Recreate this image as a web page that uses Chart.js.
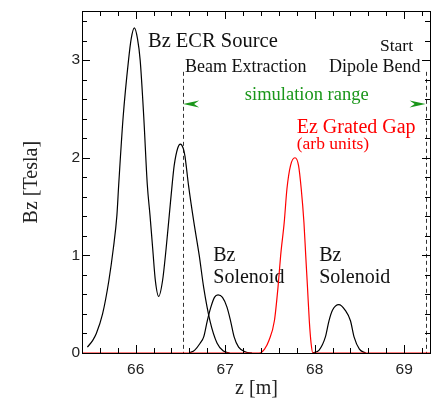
<!DOCTYPE html>
<html>
<head>
<meta charset="utf-8">
<script src="https://cdn.jsdelivr.net/npm/chart.js@4"></script>
<style>
  html, body { margin: 0; padding: 0; background: #fff; }
  #wrap { width: 433px; height: 401px; }
</style>
</head>
<body>
<div id="wrap"><canvas id="fieldChart"></canvas></div>
<script>
// Data
const ecrZ = [65.46, 65.52, 65.56, 65.63, 65.70, 65.75, 65.79, 65.81, 65.86, 65.92, 65.95, 65.985, 66.02, 66.05, 66.09, 66.13, 66.16, 66.19, 66.22, 66.257, 66.30, 66.34, 66.375, 66.41, 66.43, 66.47, 66.50, 66.53, 66.55, 66.59, 66.65, 66.71, 66.76, 66.83, 66.91, 66.98, 67.05];
const ecrB = [0.06, 0.13, 0.20, 0.40, 0.74, 1.07, 1.41, 1.72, 2.42, 3.00, 3.22, 3.33, 3.22, 3.00, 2.42, 1.72, 1.41, 1.07, 0.74, 0.58, 0.74, 1.07, 1.41, 1.75, 1.92, 2.10, 2.14, 2.10, 2.02, 1.72, 1.34, 1.00, 0.67, 0.33, 0.10, 0.02, 0.00];

const sol1Z = [66.60, 66.66, 66.72, 66.76, 66.80, 66.84, 66.88, 66.92, 66.97, 67.02, 67.06, 67.10, 67.15, 67.23, 67.30];
const sol1B = [0.00, 0.03, 0.10, 0.165, 0.33, 0.47, 0.57, 0.596, 0.57, 0.47, 0.33, 0.165, 0.06, 0.01, 0.00];

const sol2Z = [67.98, 68.05, 68.12, 68.16, 68.20, 68.27, 68.34, 68.40, 68.44, 68.50, 68.57];
const sol2B = [0.00, 0.03, 0.165, 0.33, 0.44, 0.495, 0.44, 0.33, 0.165, 0.04, 0.00];

const gapZ = [65.40, 67.38, 67.44, 67.49, 67.55, 67.59, 67.62, 67.66, 67.69, 67.73, 67.78, 67.82, 67.85, 67.88, 67.90, 67.92, 67.94, 67.96, 67.98, 69.30];
const gapE = [0.00, 0.00, 0.04, 0.13, 0.33, 0.67, 1.00, 1.34, 1.68, 1.92, 2.00, 1.92, 1.68, 1.34, 1.00, 0.67, 0.33, 0.10, 0.00, 0.00];

const xTickValues = [66, 67, 68, 69];
const yTickValues = [0, 1, 2, 3];

const beamExtractionZ = 66.53;
const dipoleBendZ = 69.24;

const serif = 'Liberation Serif';
const sans = 'Liberation Sans';
const green = 'rgb(25,150,25)';

// Text notes placed in data coordinates
const notes = [
  { text: 'Bz ECR Source', z: 66.137, b: 3.136, size: 20.5, color: '#111' },
  { text: 'Beam Extraction', z: 66.551, b: 2.876, size: 18, color: '#111' },
  { text: 'Start', z: 68.73, b: 3.094, size: 17.5, color: '#111' },
  { text: 'Dipole Bend', z: 68.16, b: 2.876, size: 18, color: '#111' },
  { text: 'simulation range', z: 67.22, b: 2.589, size: 18.5, color: green },
  { text: 'Ez Grated Gap', z: 67.80, b: 2.253, size: 20, color: '#ff0000' },
  { text: '(arb units)', z: 67.80, b: 2.09, size: 17.5, color: '#ff0000' },
  { text: 'Bz', z: 66.867, b: 0.939, size: 20, color: '#111' },
  { text: 'Solenoid', z: 66.867, b: 0.72, size: 20, color: '#111' },
  { text: 'Bz', z: 68.05, b: 0.939, size: 20, color: '#111' },
  { text: 'Solenoid', z: 68.05, b: 0.72, size: 20, color: '#111' }
];

function toPoints(zs, vs) {
  return zs.map((z, i) => ({ x: z, y: vs[i] }));
}

function lineSet(zs, vs, color) {
  return {
    data: toPoints(zs, vs),
    borderColor: color,
    borderWidth: 1.2,
    pointRadius: 0,
    showLine: true,
    fill: false,
    cubicInterpolationMode: 'monotone'
  };
}

// Dashed markers, arrows and text notes under the curves
const notesPlugin = {
  id: 'notes',
  beforeDatasetsDraw(chart) {
    const { ctx, chartArea: a, scales: { x, y } } = chart;
    ctx.save();
    ctx.strokeStyle = '#333';
    ctx.lineWidth = 1;
    ctx.setLineDash([4, 3]);
    [beamExtractionZ, dipoleBendZ].forEach(z => {
      const px = Math.round(x.getPixelForValue(z)) + 0.5;
      ctx.beginPath();
      ctx.moveTo(px, y.getPixelForValue(2.88));
      ctx.lineTo(px, a.bottom);
      ctx.stroke();
    });
    ctx.setLineDash([]);

    // simulation range arrowheads
    const ay = y.getPixelForValue(2.55);
    [[beamExtractionZ, 1], [dipoleBendZ, -1]].forEach(([z, dir]) => {
      const tip = x.getPixelForValue(z);
      ctx.fillStyle = green;
      ctx.beginPath();
      ctx.moveTo(tip, ay);
      ctx.lineTo(tip + dir * 16, ay - 3.5);
      ctx.lineTo(tip + dir * 11, ay);
      ctx.lineTo(tip + dir * 16, ay + 3.5);
      ctx.closePath();
      ctx.fill();
    });

    ctx.textAlign = 'left';
    ctx.textBaseline = 'alphabetic';
    notes.forEach(n => {
      ctx.font = n.size + 'px "' + serif + '"';
      ctx.fillStyle = n.color;
      ctx.fillText(n.text, x.getPixelForValue(n.z), y.getPixelForValue(n.b));
    });
    ctx.restore();
  }
};

// Box frame with inward ticks on all four sides
const framePlugin = {
  id: 'frame',
  afterDraw(chart) {
    const { ctx, chartArea: a, scales: { x, y } } = chart;
    const left = Math.round(a.left);
    const right = Math.round(a.right) - 1;
    const top = Math.round(a.top);
    const bottom = Math.round(a.bottom);
    ctx.save();
    ctx.fillStyle = '#000';
    for (let i = 0; i < 20; i++) {
      const v = 65.4 + i * 0.2;
      const len = xTickValues.some(t => Math.abs(t - v) < 1e-6) ? 8 : 5;
      const px = Math.round(x.getPixelForValue(v));
      ctx.fillRect(px, bottom - len, 1, len);
      ctx.fillRect(px, top, 1, len);
    }
    for (let i = 0; i < 18; i++) {
      const v = i * 0.2;
      const len = yTickValues.some(t => Math.abs(t - v) < 1e-6) ? 8 : 5;
      const py = Math.round(y.getPixelForValue(v));
      ctx.fillRect(left, py, len, 1);
      ctx.fillRect(right - len, py, len, 1);
    }
    ctx.fillRect(left, top, right - left + 1, 1);
    ctx.fillRect(left, bottom, right - left + 1, 1);
    ctx.fillRect(left, top, 1, bottom - top + 1);
    ctx.fillRect(right, top, 1, bottom - top + 1);
    ctx.restore();
  }
};

const chart = new Chart(document.getElementById('fieldChart').getContext('2d'), {
  type: 'scatter',
  data: {
    datasets: [
      lineSet(gapZ, gapE, '#ff0000'),
      lineSet(ecrZ, ecrB, '#000'),
      lineSet(sol1Z, sol1B, '#000'),
      lineSet(sol2Z, sol2B, '#000')
    ]
  },
  options: {
    responsive: true,
    maintainAspectRatio: false,
    animation: false,
    layout: { padding: { top: 6, right: 2, left: 0, bottom: 0 } },
    plugins: {
      legend: { display: false },
      tooltip: { enabled: false }
    },
    scales: {
      x: {
        type: 'linear',
        min: 65.4,
        max: 69.3,
        border: { display: false },
        grid: { display: false, drawTicks: false },
        afterBuildTicks: s => { s.ticks = xTickValues.map(v => ({ value: v })); },
        afterFit: s => { s.height = 48; },
        ticks: {
          padding: 7,
          color: '#222',
          font: { family: sans, size: 15.5 }
        },
        title: {
          display: true,
          text: 'z [m]',
          color: '#222',
          padding: { top: 0, bottom: 0 },
          font: { family: serif, size: 20 }
        }
      },
      y: {
        min: 0,
        max: 3.5,
        border: { display: false },
        grid: { display: false, drawTicks: false },
        afterBuildTicks: s => { s.ticks = yTickValues.map(v => ({ value: v })); },
        afterFit: s => { s.width = 82; },
        ticks: {
          padding: 2,
          color: '#222',
          font: { family: sans, size: 15.5 }
        },
        title: {
          display: true,
          text: 'Bz [Tesla]',
          color: '#222',
          padding: { top: 20, bottom: 0 },
          font: { family: serif, size: 20 }
        }
      }
    }
  },
  plugins: [notesPlugin, framePlugin]
});
</script>
</body>
</html>
